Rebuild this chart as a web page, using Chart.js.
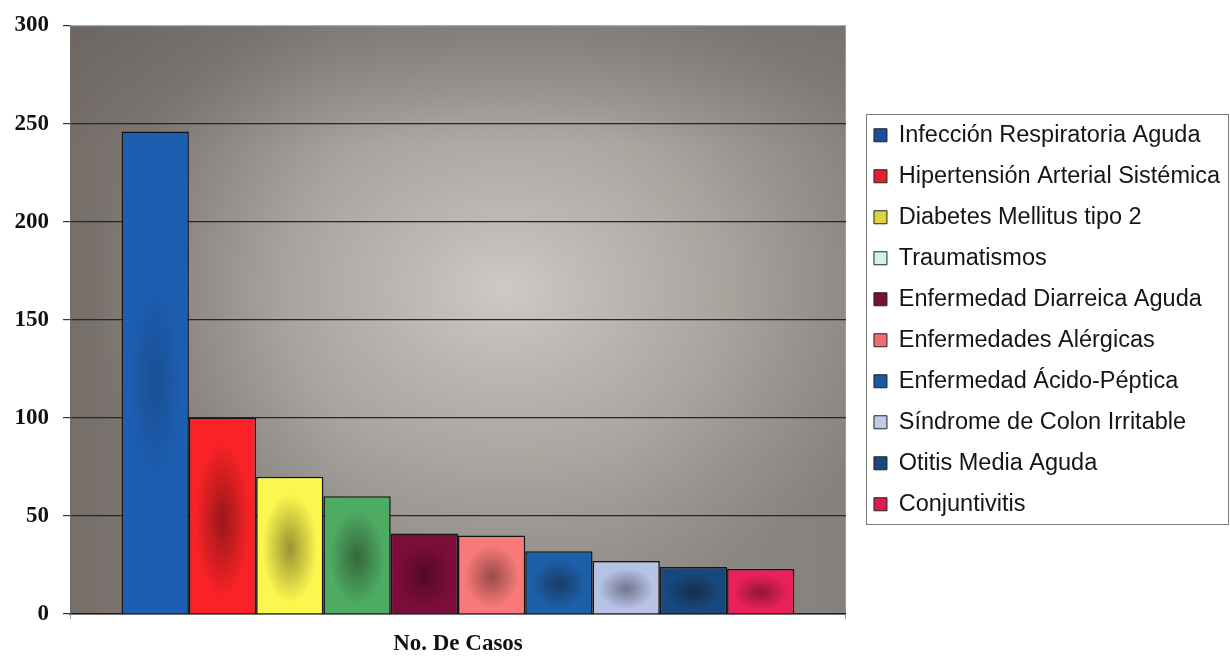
<!DOCTYPE html>
<html>
<head>
<meta charset="utf-8">
<script src="https://cdn.jsdelivr.net/npm/chart.js@4.4.1/dist/chart.umd.min.js"></script>
<style>
    html, body { margin: 0; padding: 0; background: #fff; }
    #wrap { width: 1230px; height: 656px; }
</style>
</head>
<body>
<div id="wrap"><canvas id="chartCanvas" width="1230" height="656"></canvas></div>
<script>
// ============================================
// DATA
// ============================================
const categoryLabels = ['No. De Casos'];

const diseaseNames = [
    'Infección Respiratoria Aguda',
    'Hipertensión Arterial Sistémica',
    'Diabetes Mellitus tipo 2',
    'Traumatismos',
    'Enfermedad Diarreica Aguda',
    'Enfermedades Alérgicas',
    'Enfermedad Ácido-Péptica',
    'Síndrome de Colon Irritable',
    'Otitis Media Aguda',
    'Conjuntivitis'
];

const caseCounts = [246, 100, 70, 60, 41, 40, 32, 27, 24, 23];

const yTicks = [0, 50, 100, 150, 200, 250, 300];

// ============================================
// STYLE
// ============================================
const barColors = ['#1d5eb2', '#fa2226', '#fbf74e', '#4dab62', '#7c0c3a', '#f77a78',
                   '#1c60aa', '#b6c2e6', '#17497e', '#ea2058'];
const legendColors = ['#1f4f9c', '#e4202c', '#dcd442', '#cdf3ec', '#7a1032', '#ee6e6e',
                      '#1a5aa2', '#c2cae8', '#1a4878', '#de1a52'];

// ============================================
// PLUGINS
// ============================================
const plotBackground = {
    id: 'plotBackground',
    beforeDraw(chart) {
        const ctx = chart.ctx;
        const a = chart.chartArea;
        ctx.save();
        ctx.fillStyle = '#ffffff';
        ctx.fillRect(0, 0, chart.width, chart.height);

        const lin = ctx.createLinearGradient(a.left, 0, a.right, 0);
        lin.addColorStop(0, '#766e69');
        lin.addColorStop(0.35, '#8e8a86');
        lin.addColorStop(0.7, '#908d88');
        lin.addColorStop(1, '#85817c');
        ctx.fillStyle = lin;
        ctx.fillRect(a.left, a.top, a.right - a.left, a.bottom - a.top);

        ctx.beginPath();
        ctx.rect(a.left, a.top, a.right - a.left, a.bottom - a.top);
        ctx.clip();
        const cx = a.left + (a.right - a.left) * 0.56;
        const cy = a.top + (a.bottom - a.top) * 0.45;
        ctx.translate(cx, cy);
        ctx.scale(1.3, 1);
        const rad = ctx.createRadialGradient(0, 0, 0, 0, 0, 320);
        rad.addColorStop(0, 'rgba(220,218,212,0.8)');
        rad.addColorStop(0.55, 'rgba(200,197,190,0.45)');
        rad.addColorStop(1, 'rgba(180,176,170,0)');
        ctx.fillStyle = rad;
        ctx.fillRect(-500, -400, 1000, 800);
        ctx.restore();

        // darker band along the top
        ctx.save();
        const top = ctx.createLinearGradient(0, a.top, 0, a.top + 120);
        top.addColorStop(0, 'rgba(90,86,84,0.35)');
        top.addColorStop(1, 'rgba(90,86,84,0)');
        ctx.fillStyle = top;
        ctx.fillRect(a.left, a.top, a.right - a.left, 120);
        ctx.restore();
    }
};

const barShade = {
    id: 'barShade',
    afterDatasetsDraw(chart) {
        const ctx = chart.ctx;
        chart.data.datasets.forEach(function(ds, i) {
            const bar = chart.getDatasetMeta(i).data[0];
            if (!bar) return;
            const left = bar.x - bar.width / 2 + 1;
            const w = bar.width - 2;
            const top = bar.y + 1;
            const h = bar.base - bar.y - 1;
            const rx = w * 0.42;
            const ry = Math.min(h * 0.4, 110);
            const alpha = 0.42 * Math.min(1, 200 / h);
            ctx.save();
            ctx.beginPath();
            ctx.rect(left, top, w, h);
            ctx.clip();
            ctx.translate(bar.x, top + h * 0.52);
            ctx.scale(1, ry / rx);
            const g = ctx.createRadialGradient(0, 0, 0, 0, 0, rx);
            g.addColorStop(0, 'rgba(20,10,10,' + alpha + ')');
            g.addColorStop(0.5, 'rgba(20,10,10,' + (alpha * 0.5) + ')');
            g.addColorStop(1, 'rgba(20,10,10,0)');
            ctx.fillStyle = g;
            ctx.fillRect(-rx * 2, -rx * 2, rx * 4, rx * 4);
            ctx.restore();
        });
    }
};

const legendFrame = {
    id: 'legendFrame',
    afterDraw(chart) {
        const boxes = chart.legend.legendHitBoxes;
        if (!boxes || !boxes.length) return;
        const ctx = chart.ctx;
        const first = boxes[0];
        const last = boxes[boxes.length - 1];
        const left = first.left - 8;
        const top = first.top + first.height / 2 - 21;
        const bottom = last.top + last.height / 2 + 20;
        const right = chart.width - 2;
        ctx.save();
        ctx.strokeStyle = '#7a7a7a';
        ctx.lineWidth = 1;
        ctx.strokeRect(Math.round(left) + 0.5, Math.round(top) + 0.5,
                       Math.round(right - left), Math.round(bottom - top));
        ctx.restore();
    }
};

// ============================================
// CHART
// ============================================
const datasets = diseaseNames.map(function(name, i) {
    return {
        label: name,
        data: [caseCounts[i]],
        backgroundColor: barColors[i],
        borderColor: '#141414',
        borderWidth: 1.5,
        barPercentage: 1.0,
        categoryPercentage: 0.867
    };
});

const ctx = document.getElementById('chartCanvas').getContext('2d');
new Chart(ctx, {
    type: 'bar',
    data: { labels: categoryLabels, datasets: datasets },
    plugins: [plotBackground, barShade, legendFrame],
    options: {
        responsive: false,
        animation: false,
        devicePixelRatio: 1,
        layout: { padding: { top: 24, left: 0, right: 0, bottom: 0 } },
        plugins: {
            tooltip: { enabled: false },
            legend: {
                position: 'right',
                fullSize: false,
                maxWidth: 420,
                labels: {
                    boxWidth: 13,
                    boxHeight: 13,
                    padding: 17.5,
                    color: '#151515',
                    font: { family: '"Liberation Sans", Arial, sans-serif', size: 23.5 },
                    generateLabels: function(chart) {
                        const items = Chart.defaults.plugins.legend.labels.generateLabels(chart);
                        items.forEach(function(it, i) {
                            it.fillStyle = legendColors[i];
                            it.strokeStyle = '#222';
                            it.lineWidth = 1;
                        });
                        return items;
                    }
                }
            }
        },
        scales: {
            x: {
                grid: {
                    display: true,
                    offset: true,
                    drawOnChartArea: true,
                    color: '#9a9a9a',
                    tickColor: '#9a9a9a',
                    tickLength: 5
                },
                border: { display: true, color: '#1e1e1e', width: 1.5 },
                ticks: {
                    color: '#111',
                    padding: 11,
                    font: { family: '"Liberation Serif", "Times New Roman", serif', size: 23, weight: 'bold' }
                },
                afterFit: function(scale) { scale.height = 42; }
            },
            y: {
                min: yTicks[0],
                max: yTicks[yTicks.length - 1],
                afterBuildTicks: function(scale) {
                    scale.ticks = yTicks.map(function(v) { return { value: v }; });
                },
                grid: {
                    color: function(c) { return c.tick && c.tick.value === 300 ? '#a8a8a8' : '#262626'; },
                    tickColor: '#333',
                    tickLength: 7,
                    lineWidth: 1.2
                },
                border: { display: true, color: '#6e6e6e', width: 1 },
                ticks: {
                    color: '#111',
                    padding: 14,
                    font: { family: '"Liberation Serif", "Times New Roman", serif', size: 23, weight: 'bold', lineHeight: 1.0 }
                },
                afterFit: function(scale) { scale.width = 70; }
            },
            spacer: {
                type: 'linear',
                position: 'right',
                display: true,
                grid: { display: false },
                border: { display: false },
                ticks: { display: false },
                afterFit: function(scale) { scale.width = 10.5; }
            }
        }
    }
});
</script>
</body>
</html>
